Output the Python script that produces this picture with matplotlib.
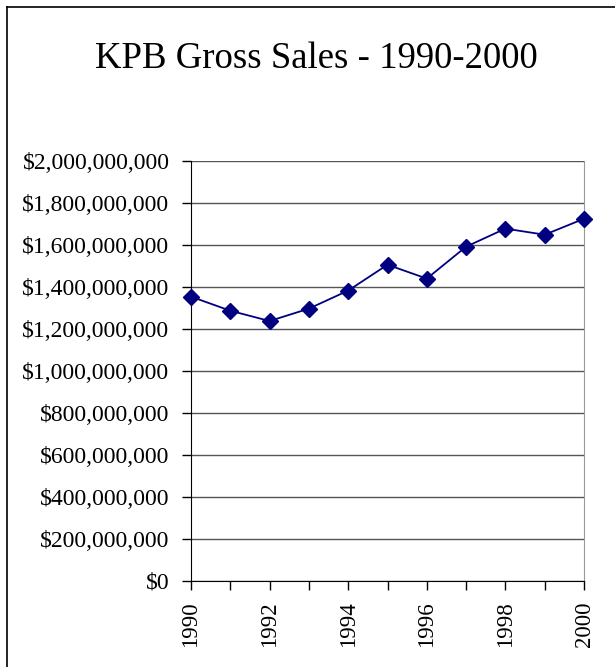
import matplotlib
matplotlib.use("Agg")
import matplotlib.pyplot as plt
from matplotlib.ticker import FuncFormatter, MultipleLocator
from matplotlib.lines import Line2D

# values
years = [1990, 1991, 1992, 1993, 1994, 1995, 1996, 1997, 1998, 1999, 2000]
sales = [1354e6, 1287e6, 1238e6, 1297e6, 1383e6, 1506e6,
         1440e6, 1592e6, 1678e6, 1649e6, 1725e6]
year_labels = [1990, 1992, 1994, 1996, 1998, 2000]
title = "KPB Gross Sales - 1990-2000"

plt.rcParams['font.family'] = ['Liberation Serif', 'DejaVu Serif']

W, H = 615, 667
fig = plt.figure(figsize=(W / 100, H / 100), dpi=100)

# outer chart border (only left and top visible in the picture)
fig.add_artist(Line2D([7 / W, 7 / W], [0, 1 - 7 / H], color='black', lw=1.2))
fig.add_artist(Line2D([7 / W, 1], [1 - 7 / H, 1 - 7 / H], color='black', lw=1.2))

ax = fig.add_axes([191 / W, 1 - 581 / H, (584 - 191) / W, (581 - 161) / H])

ax.plot(years, sales, color='#000080', lw=1.3, marker='D', markersize=8,
        markerfacecolor='#000080', markeredgecolor='#000080', zorder=3,
        clip_on=False)

ax.set_xlim(1990, 2000)
ax.set_ylim(0, 2e9)
ax.yaxis.set_major_locator(MultipleLocator(2e8))
ax.yaxis.set_major_formatter(FuncFormatter(lambda v, p: "${:,.0f}".format(v)))
ax.set_xticks(years, minor=False)
ax.set_xticklabels([str(y) if y in year_labels else "" for y in years],
                   rotation=90)
ax.grid(axis='y', color='#555555', lw=1)
ax.set_axisbelow(True)

ax.spines['top'].set_visible(False)
ax.spines['right'].set_color('#999999')
ax.spines['left'].set_color('black')
ax.spines['bottom'].set_color('black')
ax.tick_params(axis='both', direction='out', length=6.5, width=1,
               labelsize=16.5, colors='black', pad=8)
ax.tick_params(axis='y', labelsize=17, pad=9)

fig.text(316 / W, 1 - 59 / H, title, ha='center', va='center', fontsize=26.5)

fig.savefig("out.png", dpi=100)
